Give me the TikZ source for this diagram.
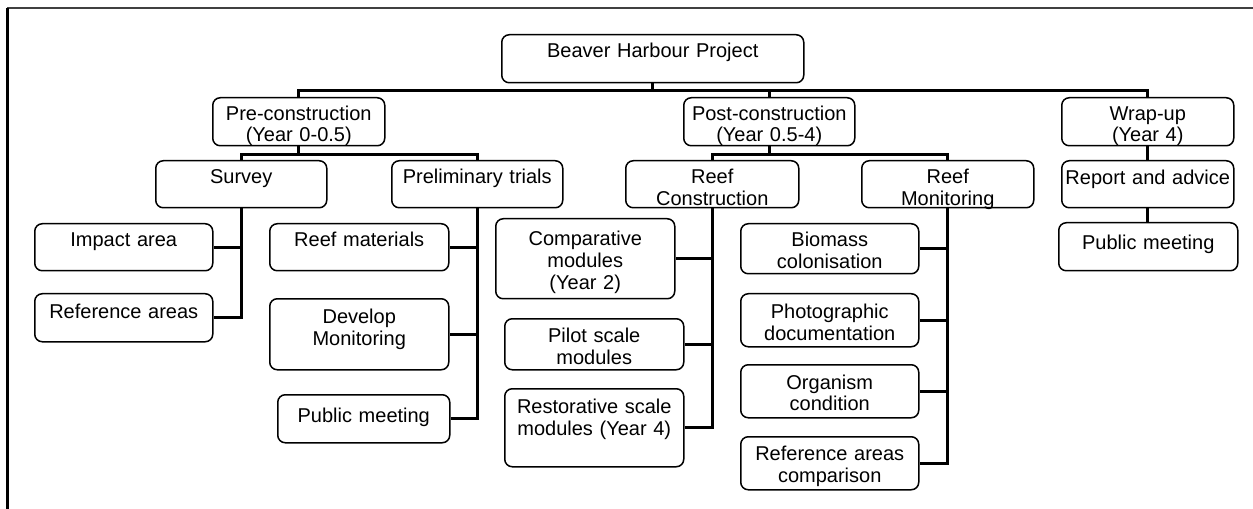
\documentclass[tikz,border=0pt]{standalone}
\usepackage{fontspec}
\setmainfont{Liberation Sans}
\usetikzlibrary{positioning}

\begin{document}
\begin{tikzpicture}[x=0.6pt,y=-0.6pt, every node/.style={font=\fontsize{12pt}{13pt}\selectfont},
    box/.style={draw, rounded corners=4.5pt, line width=0.9pt, anchor=north west, inner sep=0pt, align=center, text height=13.6pt, text depth=14.6pt},
    link/.style={line width=2pt, line join=miter}]
    \useasboundingbox (0,0) rectangle (1253,509);
    \draw[line width=0.7pt, black!75] (1253,8) -- (7,8);
    \draw[line width=1.3pt] (7.5,8) -- (7.5,509);
    \node[box, text width=181.2pt, text depth=15.2pt] (root) at (501,34) {Beaver Harbour Project};
    \node[box, text width=103.2pt, text height=13.4pt, text depth=15.4pt] (pre) at (212,97) {Pre-construction\\(Year 0-0.5)};
    \node[box, text width=102.6pt, text height=13.4pt, text depth=15.4pt] (post) at (683,97) {Post-construction\\(Year 0.5-4)};
    \node[box, text width=103.2pt, text height=13.4pt, text depth=15.4pt] (wrap) at (1061,97) {Wrap-up\\(Year 4)};
    \node[box, text width=102.6pt] (sur) at (155,160) {Survey};
    \node[box, text width=102.6pt] (prl) at (391,160) {Preliminary trials};
    \node[box, text width=103.8pt] (rc) at (625,160) {Reef\\Construction};
    \node[box, text width=103.2pt] (rm) at (861,160) {Reef\\Monitoring};
    \node[box, text width=103.2pt, text height=14pt, text depth=14.2pt] (rep) at (1061,160) {Report and advice};
    \node[box, text width=107.4pt, text height=15.8pt, text depth=13pt] (pubR) at (1058,222) {Public meeting};
    \node[box, text width=106.8pt, text height=13.8pt, text depth=14.4pt] (imp) at (34,223) {Impact area};
    \node[box, text width=106.8pt, text height=14.8pt, text depth=14pt] (refa) at (34,293) {Reference areas};
    \node[box, text width=107.4pt] (mat) at (269,223) {Reef materials};
    \node[box, text width=107.4pt, text height=14.8pt, text depth=27.8pt] (dev) at (269,298) {Develop\\Monitoring};
    \node[box, text width=103.2pt, text height=16.8pt, text depth=12pt] (pubL) at (277,394) {Public meeting};
    \node[box, text width=107.4pt, text height=16.2pt, text depth=31.8pt] (cmp) at (495,218) {Comparative\\modules\\(Year 2)};
    \node[box, text width=107.4pt, text height=14.4pt, text depth=16.2pt] (pil) at (504,318) {Pilot scale\\modules};
    \node[box, text width=107.4pt, text height=15pt, text depth=31.8pt] (rst) at (504,388) {Restorative scale\\modules (Year 4)};
    \node[box, text width=106.8pt, text height=13.8pt, text depth=16.2pt] (bio) at (740,223) {Biomass\\colonisation};
    \node[box, text width=106.8pt, text height=15pt, text depth=16.8pt] (pho) at (740,293) {Photographic\\documentation};
    \node[box, text width=106.8pt, text height=14.6pt, text depth=17.2pt] (org) at (740,364) {Organism\\condition};
    \node[box, text width=106.8pt, text height=14.4pt, text depth=17.4pt] (rfc) at (740,436) {Reference areas\\comparison};
    \foreach \n in {pre,post,wrap}
        \draw[link] (root.south) -- ++(0,7) -| (\n.north);
    \foreach \n in {sur,prl}
        \draw[link] (pre.south) -- ++(0,8) -| (\n.north);
    \foreach \n in {rc,rm}
        \draw[link] (post.south) -- ++(0,8) -| (\n.north);
    \draw[link] (wrap.south) -- (rep.north);
    \draw[link] (rep.south) -- (rep.south |- pubR.north);
    \foreach \n in {imp,refa}
        \draw[link] (sur.south) |- (\n.east);
    \foreach \n in {mat,dev,pubL}
        \draw[link] (prl.south) |- (\n.east);
    \foreach \n in {cmp,pil,rst}
        \draw[link] (rc.south) |- (\n.east);
    \foreach \n in {bio,pho,org,rfc}
        \draw[link] (rm.south) |- (\n.east);
\end{tikzpicture}
\end{document}
